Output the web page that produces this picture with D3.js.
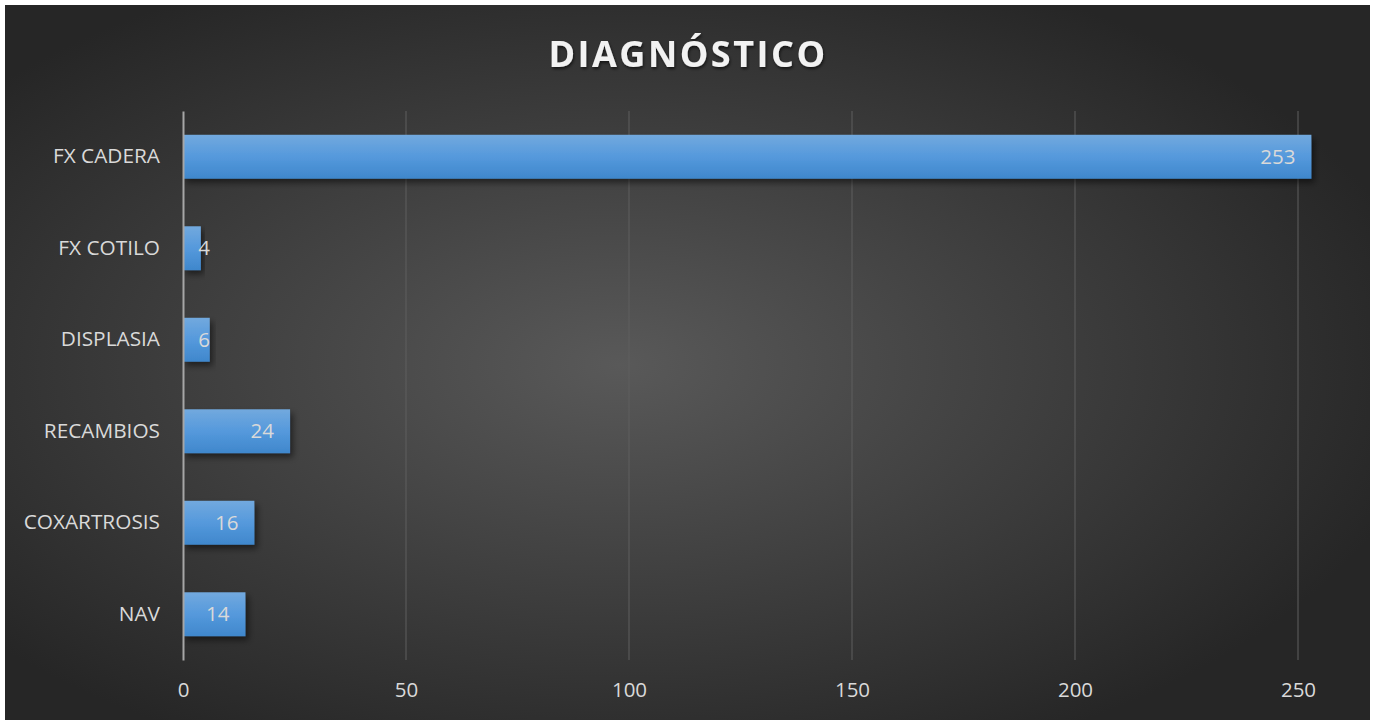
<!DOCTYPE html>
<html>
<head>
<meta charset="utf-8">
<script src="https://cdn.jsdelivr.net/npm/d3@7"></script>
<style>
  body { margin: 0; background: #fff; }
  text { font-family: "Open Sans", "Noto Sans", sans-serif; }
</style>
</head>
<body>
<div id="chart"></div>
<script>
var categories = ["FX CADERA", "FX COTILO", "DISPLASIA", "RECAMBIOS", "COXARTROSIS", "NAV"];
var values = [253, 4, 6, 24, 16, 14];
var xTicks = [0, 50, 100, 150, 200, 250];

var svgW = 1378, svgH = 720;
var margin = { top: 111, right: 80, bottom: 60, left: 183 };
var w = 1298 - margin.left;
var h = 660 - margin.top;

var svg = d3.select("#chart").append("svg")
    .attr("width", svgW).attr("height", svgH);

var defs = svg.append("defs");
var bg = defs.append("radialGradient").attr("id", "bg")
    .attr("cx", "0.45").attr("cy", "0.5").attr("r", "0.6");
bg.append("stop").attr("offset", "0%").attr("stop-color", "#595959");
bg.append("stop").attr("offset", "100%").attr("stop-color", "#262626");

var barGrad = defs.append("linearGradient").attr("id", "bar")
    .attr("x1", 0).attr("y1", 0).attr("x2", 0).attr("y2", 1);
barGrad.append("stop").attr("offset", "0%").attr("stop-color", "#72a9de");
barGrad.append("stop").attr("offset", "50%").attr("stop-color", "#5599dc");
barGrad.append("stop").attr("offset", "100%").attr("stop-color", "#3f87cc");

var shadow = defs.append("filter").attr("id", "shadow")
    .attr("x", "-10%").attr("y", "-30%").attr("width", "130%").attr("height", "170%");
shadow.append("feDropShadow").attr("dx", 3).attr("dy", 4).attr("stdDeviation", 3)
    .attr("flood-color", "#000").attr("flood-opacity", 0.5);

var tshadow = defs.append("filter").attr("id", "tshadow")
    .attr("x", "-10%").attr("y", "-30%").attr("width", "120%").attr("height", "170%");
tshadow.append("feDropShadow").attr("dx", 1).attr("dy", 2).attr("stdDeviation", 1.5)
    .attr("flood-color", "#000").attr("flood-opacity", 0.6);

svg.append("rect").attr("x", 5).attr("y", 5).attr("width", 1365).attr("height", 720)
    .attr("fill", "url(#bg)");

svg.append("text")
    .attr("x", 688).attr("y", 67)
    .attr("text-anchor", "middle")
    .attr("font-size", 36).attr("font-weight", "bold")
    .attr("letter-spacing", 2.5)
    .attr("fill", "#f2f2f2")
    .attr("filter", "url(#tshadow)")
    .text("DIAGNÓSTICO");

var chartGroup = svg.append("g")
    .attr("transform", `translate(${margin.left}, ${margin.top})`);

var x = d3.scaleLinear().domain([0, 250]).range([0, w]);
var y = d3.scaleBand().domain(categories).range([0, h]).paddingInner(0.52).paddingOuter(0.26);

// gridlines
chartGroup.selectAll("line.grid")
    .data(xTicks.slice(1)).enter().append("line")
    .attr("class", "grid")
    .attr("x1", d => x(d)).attr("x2", d => x(d))
    .attr("y1", 0).attr("y2", h)
    .attr("stroke", "#5e5e5e").attr("stroke-width", 1);

// x axis labels
var xAxis = d3.axisBottom(x).tickValues(xTicks).tickSize(0).tickPadding(22);
var gx = chartGroup.append("g")
    .attr("transform", `translate(0, ${h})`).call(xAxis);
gx.select(".domain").remove();
gx.selectAll("text").attr("font-size", 20.5).attr("fill", "#d9d9d9")
    .attr("font-family", "'Open Sans', sans-serif");

// bars
chartGroup.selectAll("rect.bar")
    .data(values).enter().append("rect")
    .attr("class", "bar")
    .attr("x", x(0))
    .attr("y", (d, i) => y(categories[i]))
    .attr("width", d => x(d) - x(0))
    .attr("height", y.bandwidth())
    .attr("fill", "url(#bar)")
    .attr("filter", "url(#shadow)");

// y axis
var yAxis = d3.axisLeft(y).tickSize(0).tickPadding(23);
var gy = chartGroup.append("g").call(yAxis);
gy.select(".domain").attr("stroke", "#a6a6a6").attr("stroke-width", 2);
gy.selectAll("text").attr("font-size", 20.8).attr("fill", "#d9d9d9")
    .attr("font-family", "'Open Sans', sans-serif");

// data labels
chartGroup.selectAll("text.lbl")
    .data(values).enter().append("text")
    .attr("class", "lbl")
    .attr("x", d => Math.max(x(d) - 16, x(0) + 27))
    .attr("y", (d, i) => y(categories[i]) + y.bandwidth() / 2)
    .attr("dy", "0.35em")
    .attr("text-anchor", "end")
    .attr("font-size", 20.5)
    .attr("fill", "#d9d9d9")
    .text(d => d);
</script>
</body>
</html>
